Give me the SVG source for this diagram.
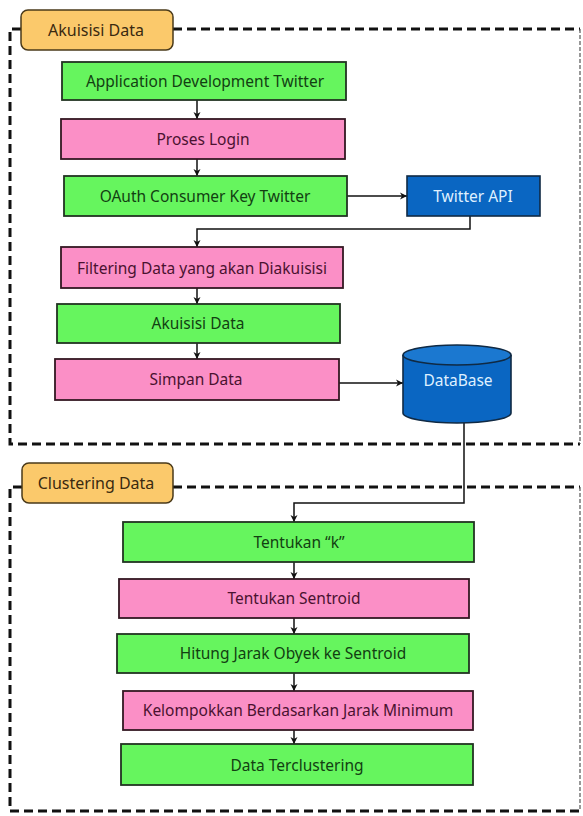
<svg xmlns="http://www.w3.org/2000/svg" width="583" height="816" viewBox="0 0 583 816">
<defs>
<marker id="arr" markerWidth="8" markerHeight="8" refX="7" refY="4" orient="auto" markerUnits="userSpaceOnUse">
<path d="M0,0.5 L7,4 L0,7.5 L2,4 Z" fill="#111"/>
</marker>
</defs>
<style>
text{font-family:"Noto Sans","Open Sans","DejaVu Sans",sans-serif;font-size:15.5px;text-anchor:middle;dominant-baseline:central}
.frame{fill:none;stroke:#111;stroke-width:3;stroke-dasharray:9 5}
.frameR{fill:none;stroke:#555;stroke-width:1.2;stroke-dasharray:4 2}
.lbl{fill:#fbc96b;stroke:#4a3a1a;stroke-width:1.5}
.lbl-t{fill:#3a2a10;font-size:16px}
.g{fill:#66f55e;stroke:#223322;stroke-width:1.8}
.g-t{fill:#124012}
.p{fill:#fb8fc6;stroke:#331822;stroke-width:1.8}
.p-t{fill:#4a1230}
.b{fill:#0a66c2;stroke:#102a44;stroke-width:1.6}
.b-t{fill:#dff0ff}
.c{fill:none;stroke:#111;stroke-width:1.5}
</style>
<rect width="583" height="816" fill="#fff"/>
<g id="frame-akuisisi">
<path class="frame" d="M21,29 H10 V444 H580"/>
<path class="frame" d="M173,29 H580"/>
<path class="frameR" d="M580,29 V444"/>
</g>
<g id="frame-clustering">
<path class="frame" d="M22,487 H10 V811 H580"/>
<path class="frame" d="M173,487 H580"/>
<path class="frameR" d="M580,487 V811"/>
</g>
<g id="connectors">
<line class="c" x1="197" y1="100" x2="197" y2="119" marker-end="url(#arr)"/>
<line class="c" x1="197" y1="159" x2="197" y2="176" marker-end="url(#arr)"/>
<line class="c" x1="347" y1="196" x2="407" y2="196" marker-end="url(#arr)"/>
<polyline class="c" points="470,216 470,229 197,229 197,247" marker-end="url(#arr)"/>
<line class="c" x1="197" y1="288" x2="197" y2="304" marker-end="url(#arr)"/>
<line class="c" x1="197" y1="343" x2="197" y2="359" marker-end="url(#arr)"/>
<line class="c" x1="339" y1="383" x2="403" y2="383" marker-end="url(#arr)"/>
<polyline class="c" points="464,423 464,503 294,503 294,522" marker-end="url(#arr)"/>
<line class="c" x1="294" y1="562" x2="294" y2="579" marker-end="url(#arr)"/>
<line class="c" x1="294" y1="618" x2="294" y2="634" marker-end="url(#arr)"/>
<line class="c" x1="294" y1="673" x2="294" y2="691" marker-end="url(#arr)"/>
<line class="c" x1="294" y1="730" x2="294" y2="744" marker-end="url(#arr)"/>
</g>
<g id="label-akuisisi">
<rect class="lbl" x="21" y="10" width="152" height="40" rx="7"/>
<text class="lbl-t" x="96" y="30">Akuisisi Data</text>
</g>
<g id="label-clustering">
<rect class="lbl" x="22" y="463" width="151" height="40" rx="7"/>
<text class="lbl-t" x="96" y="483">Clustering Data</text>
</g>
<g id="n-appdev">
<rect class="g" x="62" y="62" width="284" height="38"/>
<text class="g-t" x="205" y="81">Application Development Twitter</text>
</g>
<g id="n-login">
<rect class="p" x="61" y="119" width="284" height="40"/>
<text class="p-t" x="203" y="139">Proses Login</text>
</g>
<g id="n-oauth">
<rect class="g" x="64" y="176" width="283" height="40"/>
<text class="g-t" x="205" y="196">OAuth Consumer Key Twitter</text>
</g>
<g id="n-twitterapi">
<rect class="b" x="407" y="176" width="133" height="40"/>
<text class="b-t" x="473" y="196">Twitter API</text>
</g>
<g id="n-filtering">
<rect class="p" x="61" y="247" width="282" height="41"/>
<text class="p-t" x="202" y="268">Filtering Data yang akan Diakuisisi</text>
</g>
<g id="n-akuisisi">
<rect class="g" x="57" y="304" width="283" height="39"/>
<text class="g-t" x="198" y="323">Akuisisi Data</text>
</g>
<g id="n-simpan">
<rect class="p" x="55" y="359" width="284" height="41"/>
<text class="p-t" x="196" y="379">Simpan Data</text>
</g>
<g id="n-database">
<path class="b" d="M403,355 V413 A54,10 0 0 0 511,413 V355"/>
<ellipse cx="457" cy="355" rx="54" ry="10" fill="#1b78d0" stroke="#102a44" stroke-width="1.6"/>
<text class="b-t" x="458" y="380">DataBase</text>
</g>
<g id="n-tentukank">
<rect class="g" x="123" y="522" width="351" height="40"/>
<text class="g-t" x="299" y="542">Tentukan “k”</text>
</g>
<g id="n-sentroid">
<rect class="p" x="119" y="579" width="350" height="39"/>
<text class="p-t" x="294" y="598">Tentukan Sentroid</text>
</g>
<g id="n-hitung">
<rect class="g" x="117" y="634" width="352" height="39"/>
<text class="g-t" x="293" y="653">Hitung Jarak Obyek ke Sentroid</text>
</g>
<g id="n-kelompok">
<rect class="p" x="123" y="691" width="350" height="39"/>
<text class="p-t" x="298" y="710">Kelompokkan Berdasarkan Jarak Minimum</text>
</g>
<g id="n-terclustering">
<rect class="g" x="121" y="744" width="352" height="41"/>
<text class="g-t" x="297" y="765">Data Terclustering</text>
</g>
</svg>
